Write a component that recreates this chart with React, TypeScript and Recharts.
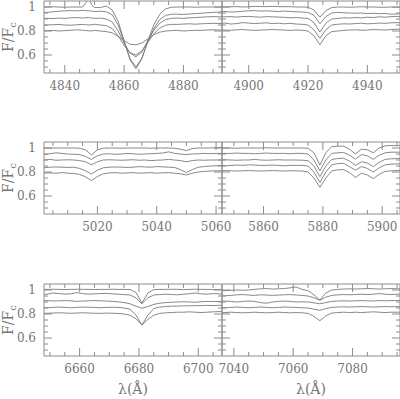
import React from 'react';
import { LineChart, Line, XAxis, YAxis, Label } from 'recharts';

// Normalised flux F/Fc of five spectra (offset).
// Each window has its own wavelength grid (Å).

const WAVE_HB = [4832, 4834, 4836, 4838, 4840, 4842, 4844, 4846, 4847, 4848, 4849, 4850, 4852, 4854, 4856, 4858, 4860, 4862, 4864, 4866, 4868, 4870, 4872, 4874, 4876, 4878, 4880, 4882, 4884, 4886, 4888, 4890, 4892, 4894];
const HB_1 = [1.0, 1.0, 1.002, 1.0, 0.998, 1.0, 1.0, 1.0, 1.03, 1.09, 1.02, 0.996, 0.995, 1.008, 0.975, 0.88, 0.72, 0.56, 0.485, 0.57, 0.72, 0.85, 0.94, 0.985, 0.998, 1.0, 1.0, 1.0, 0.998, 1.0, 1.0, 1.0, 1.0, 1.0];
const HB_2 = [0.953, 0.955, 0.96, 0.965, 0.968, 0.97, 0.968, 0.972, 0.97, 0.968, 0.966, 0.962, 0.965, 0.96, 0.935, 0.85, 0.71, 0.57, 0.5, 0.575, 0.71, 0.82, 0.895, 0.93, 0.94, 0.94, 0.938, 0.942, 0.945, 0.948, 0.952, 0.955, 0.958, 0.96];
const HB_3 = [0.905, 0.906, 0.903, 0.908, 0.905, 0.91, 0.912, 0.908, 0.91, 0.912, 0.908, 0.905, 0.907, 0.9, 0.875, 0.8, 0.7, 0.615, 0.585, 0.625, 0.72, 0.805, 0.865, 0.895, 0.905, 0.908, 0.905, 0.91, 0.912, 0.915, 0.918, 0.92, 0.918, 0.92];
const HB_4 = [0.848, 0.85, 0.852, 0.855, 0.85, 0.848, 0.852, 0.855, 0.853, 0.85, 0.852, 0.856, 0.85, 0.845, 0.82, 0.76, 0.68, 0.62, 0.6, 0.635, 0.705, 0.775, 0.825, 0.848, 0.855, 0.855, 0.858, 0.86, 0.857, 0.86, 0.862, 0.864, 0.862, 0.865];
const HB_5 = [0.8, 0.802, 0.805, 0.8, 0.803, 0.806, 0.81, 0.806, 0.804, 0.802, 0.8, 0.805, 0.8, 0.795, 0.785, 0.755, 0.72, 0.69, 0.685, 0.7, 0.735, 0.77, 0.79, 0.8, 0.803, 0.805, 0.8, 0.803, 0.806, 0.805, 0.808, 0.81, 0.808, 0.81];

const WAVE_4922 = [4890, 4892, 4894, 4896, 4898, 4900, 4902, 4904, 4906, 4908, 4910, 4912, 4914, 4916, 4918, 4920, 4922, 4924, 4926, 4928, 4930, 4932, 4934, 4936, 4938, 4940, 4942, 4944, 4946, 4948, 4950, 4952];
const L4922_1 = [1.0, 1.0, 1.002, 1.003, 1.0, 1.002, 1.005, 1.004, 1.003, 1.005, 1.004, 1.002, 1.003, 1.0, 1.0, 0.998, 0.975, 0.915, 0.97, 0.995, 1.0, 1.0, 0.998, 1.0, 1.002, 1.0, 1.0, 0.998, 0.998, 1.0, 0.998, 1.0];
const L4922_2 = [0.96, 0.962, 0.958, 0.96, 0.965, 0.968, 0.97, 0.966, 0.968, 0.965, 0.962, 0.966, 0.963, 0.96, 0.958, 0.955, 0.93, 0.86, 0.92, 0.95, 0.955, 0.952, 0.95, 0.948, 0.95, 0.945, 0.948, 0.944, 0.946, 0.94, 0.942, 0.945];
const L4922_3 = [0.92, 0.918, 0.92, 0.916, 0.92, 0.922, 0.918, 0.915, 0.92, 0.918, 0.916, 0.914, 0.91, 0.912, 0.908, 0.905, 0.87, 0.79, 0.865, 0.9, 0.905, 0.91, 0.908, 0.912, 0.91, 0.915, 0.912, 0.918, 0.915, 0.92, 0.922, 0.918];
const L4922_4 = [0.864, 0.866, 0.858, 0.862, 0.87, 0.866, 0.862, 0.865, 0.868, 0.862, 0.865, 0.86, 0.864, 0.858, 0.856, 0.85, 0.81, 0.74, 0.81, 0.85, 0.856, 0.86, 0.858, 0.862, 0.865, 0.86, 0.862, 0.866, 0.864, 0.868, 0.87, 0.866];
const L4922_5 = [0.81, 0.808, 0.806, 0.81, 0.812, 0.808, 0.805, 0.808, 0.81, 0.812, 0.81, 0.808, 0.805, 0.808, 0.806, 0.8, 0.76, 0.685, 0.76, 0.795, 0.8, 0.805, 0.808, 0.81, 0.806, 0.808, 0.812, 0.81, 0.808, 0.812, 0.815, 0.812];

const WAVE_5016 = [5002, 5004, 5006, 5008, 5010, 5012, 5014, 5016, 5018, 5020, 5022, 5024, 5026, 5028, 5030, 5032, 5034, 5036, 5038, 5040, 5042, 5044, 5046, 5048, 5050, 5052, 5054, 5056, 5058, 5060, 5062];
const L5016_1 = [1.0, 1.0, 1.0, 1.0, 1.0, 1.0, 0.998, 0.985, 0.942, 0.985, 0.998, 1.0, 1.0, 0.998, 1.0, 1.0, 1.0, 1.0, 0.998, 1.0, 1.0, 1.0, 0.998, 0.99, 0.978, 0.995, 1.0, 1.0, 1.0, 1.003, 1.005];
const L5016_2 = [0.945, 0.952, 0.96, 0.955, 0.95, 0.948, 0.945, 0.93, 0.905, 0.935, 0.95, 0.952, 0.948, 0.95, 0.955, 0.952, 0.948, 0.95, 0.952, 0.955, 0.958, 0.968, 0.955, 0.95, 0.945, 0.95, 0.952, 0.955, 0.953, 0.955, 0.955];
const L5016_3 = [0.9, 0.905, 0.898, 0.9, 0.902, 0.9, 0.895, 0.885, 0.86, 0.885, 0.9, 0.902, 0.9, 0.898, 0.9, 0.902, 0.898, 0.9, 0.895, 0.898, 0.9, 0.905, 0.9, 0.895, 0.885, 0.895, 0.9, 0.898, 0.9, 0.9, 0.9];
const L5016_4 = [0.835, 0.84, 0.842, 0.84, 0.838, 0.84, 0.83, 0.81, 0.783, 0.815, 0.835, 0.84, 0.842, 0.84, 0.838, 0.84, 0.845, 0.842, 0.84, 0.845, 0.843, 0.84, 0.838, 0.82, 0.795, 0.82, 0.84, 0.845, 0.85, 0.852, 0.855];
const L5016_5 = [0.79, 0.792, 0.79, 0.795, 0.79, 0.788, 0.78, 0.76, 0.728, 0.762, 0.785, 0.792, 0.795, 0.79, 0.792, 0.795, 0.79, 0.792, 0.795, 0.79, 0.793, 0.795, 0.79, 0.785, 0.775, 0.79, 0.8, 0.805, 0.808, 0.81, 0.81];

const WAVE_5876 = [5845, 5847, 5849, 5851, 5853, 5855, 5857, 5859, 5861, 5863, 5865, 5867, 5869, 5871, 5873, 5875, 5877, 5879, 5881, 5883, 5885, 5887, 5889, 5891, 5893, 5895, 5897, 5899, 5901, 5903, 5905, 5907];
const L5876_1 = [1.0, 1.0, 1.0, 0.998, 1.0, 1.0, 1.0, 1.0, 1.002, 1.0, 1.0, 1.0, 1.0, 1.0, 1.0, 0.998, 0.96, 0.858, 0.96, 1.012, 1.015, 1.015, 0.99, 0.95, 0.99, 0.985, 0.96, 1.0, 1.018, 1.02, 1.02, 1.02];
const L5876_2 = [0.952, 0.955, 0.955, 0.958, 0.955, 0.955, 0.952, 0.955, 0.958, 0.955, 0.955, 0.955, 0.952, 0.955, 0.955, 0.95, 0.9, 0.81, 0.9, 0.955, 0.96, 0.962, 0.94, 0.908, 0.945, 0.935, 0.905, 0.94, 0.96, 0.965, 0.965, 0.965];
const L5876_3 = [0.9, 0.902, 0.9, 0.898, 0.9, 0.9, 0.905, 0.9, 0.898, 0.9, 0.902, 0.9, 0.9, 0.9, 0.898, 0.895, 0.85, 0.76, 0.85, 0.905, 0.912, 0.915, 0.89, 0.855, 0.885, 0.875, 0.845, 0.88, 0.905, 0.91, 0.912, 0.912];
const L5876_4 = [0.855, 0.852, 0.855, 0.858, 0.855, 0.86, 0.858, 0.855, 0.855, 0.858, 0.855, 0.852, 0.855, 0.855, 0.855, 0.85, 0.8, 0.713, 0.8, 0.86, 0.87, 0.872, 0.845, 0.815, 0.845, 0.83, 0.8, 0.835, 0.86, 0.865, 0.868, 0.868];
const L5876_5 = [0.81, 0.812, 0.81, 0.808, 0.81, 0.812, 0.81, 0.808, 0.81, 0.812, 0.81, 0.808, 0.81, 0.81, 0.808, 0.8, 0.75, 0.672, 0.75, 0.81, 0.818, 0.82, 0.795, 0.755, 0.79, 0.775, 0.745, 0.78, 0.805, 0.81, 0.812, 0.815];

const WAVE_6678 = [6647, 6649, 6651, 6653, 6655, 6657, 6659, 6661, 6663, 6665, 6667, 6669, 6671, 6673, 6675, 6677, 6679, 6681, 6683, 6685, 6687, 6689, 6691, 6693, 6695, 6697, 6699, 6701, 6703, 6705, 6707, 6709];
const L6678_1 = [1.005, 1.005, 1.006, 1.005, 1.004, 1.005, 1.006, 1.005, 1.005, 1.004, 1.005, 1.005, 1.006, 1.005, 1.005, 1.004, 0.98, 0.89, 0.975, 1.003, 1.005, 1.005, 1.006, 1.005, 1.004, 1.005, 1.006, 1.005, 1.005, 1.004, 1.005, 1.005];
const L6678_2 = [0.962, 0.965, 0.975, 0.97, 0.966, 0.968, 0.978, 0.97, 0.965, 0.968, 0.97, 0.972, 0.968, 0.965, 0.962, 0.958, 0.935, 0.885, 0.935, 0.958, 0.962, 0.965, 0.962, 0.96, 0.965, 0.968, 0.975, 0.968, 0.965, 0.97, 0.968, 0.962];
const L6678_3 = [0.91, 0.912, 0.908, 0.91, 0.912, 0.91, 0.905, 0.908, 0.91, 0.912, 0.91, 0.908, 0.905, 0.902, 0.895, 0.885, 0.865, 0.848, 0.862, 0.88, 0.89, 0.895, 0.898, 0.9, 0.902, 0.9, 0.898, 0.902, 0.905, 0.904, 0.905, 0.905];
const L6678_4 = [0.855, 0.852, 0.855, 0.858, 0.855, 0.852, 0.855, 0.858, 0.856, 0.855, 0.852, 0.855, 0.856, 0.855, 0.85, 0.84, 0.79, 0.708, 0.79, 0.845, 0.858, 0.862, 0.865, 0.866, 0.868, 0.868, 0.87, 0.87, 0.872, 0.87, 0.872, 0.872];
const L6678_5 = [0.808, 0.806, 0.808, 0.81, 0.808, 0.806, 0.808, 0.81, 0.808, 0.806, 0.805, 0.808, 0.806, 0.805, 0.8, 0.79, 0.76, 0.708, 0.755, 0.79, 0.805, 0.81, 0.812, 0.815, 0.815, 0.818, 0.815, 0.812, 0.815, 0.818, 0.82, 0.82];

const WAVE_7065 = [7035, 7037, 7039, 7041, 7043, 7045, 7047, 7049, 7051, 7053, 7055, 7057, 7059, 7061, 7063, 7065, 7067, 7069, 7071, 7073, 7075, 7077, 7079, 7081, 7083, 7085, 7087, 7089, 7091, 7093, 7095, 7097];
const L7065_1 = [0.994, 0.995, 0.998, 1.0, 0.998, 1.0, 1.005, 1.01, 1.012, 1.008, 1.01, 1.012, 1.018, 1.025, 1.005, 0.995, 0.96, 0.917, 0.975, 1.0, 1.005, 1.008, 1.01, 1.008, 1.01, 1.012, 1.01, 1.008, 1.01, 1.012, 1.01, 1.01];
const L7065_2 = [0.95, 0.952, 0.955, 0.96, 0.962, 0.958, 0.955, 0.96, 0.958, 0.955, 0.958, 0.96, 0.962, 0.958, 0.955, 0.95, 0.935, 0.915, 0.94, 0.955, 0.96, 0.962, 0.96, 0.962, 0.965, 0.962, 0.965, 0.97, 0.965, 0.962, 0.965, 0.965];
const L7065_3 = [0.905, 0.908, 0.905, 0.9, 0.905, 0.908, 0.905, 0.895, 0.89, 0.9, 0.905, 0.908, 0.905, 0.9, 0.902, 0.9, 0.893, 0.885, 0.895, 0.905, 0.908, 0.91, 0.908, 0.91, 0.912, 0.91, 0.908, 0.912, 0.91, 0.912, 0.912, 0.912];
const L7065_4 = [0.85, 0.852, 0.855, 0.858, 0.855, 0.852, 0.855, 0.858, 0.855, 0.852, 0.855, 0.858, 0.856, 0.855, 0.852, 0.85, 0.84, 0.83, 0.845, 0.855, 0.858, 0.86, 0.858, 0.86, 0.862, 0.86, 0.858, 0.86, 0.862, 0.86, 0.862, 0.86];
const L7065_5 = [0.81, 0.812, 0.815, 0.812, 0.81, 0.812, 0.815, 0.812, 0.81, 0.812, 0.815, 0.812, 0.81, 0.812, 0.81, 0.805, 0.78, 0.744, 0.785, 0.808, 0.812, 0.815, 0.812, 0.815, 0.812, 0.815, 0.818, 0.815, 0.812, 0.815, 0.815, 0.815];

// x-axis label values per window
const LABELS_HB = [4840, 4860, 4880];
const LABELS_4922 = [4900, 4920, 4940];
const LABELS_5016 = [5020, 5040, 5060];
const LABELS_5876 = [5860, 5880, 5900];
const LABELS_6678 = [6660, 6680, 6700];
const LABELS_7065 = [7040, 7060, 7080];

const Y_DOMAIN = [0.45, 1.05];
const Y_TICKS = [0.5, 0.55, 0.6, 0.65, 0.7, 0.75, 0.8, 0.85, 0.9, 0.95, 1];
const Y_LABELS = [0.6, 0.8, 1];

const PANELS = [
  { wave: WAVE_HB, flux: [HB_1, HB_2, HB_3, HB_4, HB_5], domain: [4833, 4893], labels: LABELS_HB },
  { wave: WAVE_4922, flux: [L4922_1, L4922_2, L4922_3, L4922_4, L4922_5], domain: [4891, 4951], labels: LABELS_4922 },
  { wave: WAVE_5016, flux: [L5016_1, L5016_2, L5016_3, L5016_4, L5016_5], domain: [5002, 5062], labels: LABELS_5016 },
  { wave: WAVE_5876, flux: [L5876_1, L5876_2, L5876_3, L5876_4, L5876_5], domain: [5846, 5906], labels: LABELS_5876 },
  { wave: WAVE_6678, flux: [L6678_1, L6678_2, L6678_3, L6678_4, L6678_5], domain: [6648, 6708], labels: LABELS_6678 },
  { wave: WAVE_7065, flux: [L7065_1, L7065_2, L7065_3, L7065_4, L7065_5], domain: [7036, 7096], labels: LABELS_7065 },
];

const KEYS = ['s1', 's2', 's3', 's4', 's5'];

const COL_X = [44, 222];
const ROW_Y = [1, 141.5, 283.5];
const AXIS_W = 44;
const PAD = 10;

const INK = '#8c8c8c';
const LINE = '#7a7a7a';
const TEXT = '#767676';
const FONT = '"DejaVu Serif", serif';
const MAJOR = 8;
const MINOR = 4;

function minorTicks(lo: number, hi: number) {
  const out: number[] = [];
  for (let v = Math.ceil((lo + 0.01) / 5) * 5; v < hi; v += 5) out.push(v);
  return out;
}

const isMajorY = (v: number) => Math.abs(v * 5 - Math.round(v * 5)) < 1e-6;

function XTick({ x, y, payload, dir, labels }: any) {
  const v = payload.value;
  const major = v % 20 === 0;
  return (
    <g>
      <line x1={x} x2={x} y1={y} y2={y + dir * (major ? MAJOR : MINOR)} stroke={INK} />
      {labels && labels.includes(v) && (
        <text x={x} y={y + 17} textAnchor="middle" fill={TEXT} fontSize={12} style={{ fontFamily: FONT }}>
          {v}
        </text>
      )}
    </g>
  );
}

function YTick({ x, y, payload, dir, showLabel }: any) {
  const v = payload.value;
  const major = isMajorY(v);
  return (
    <g>
      <line x1={x} x2={x + dir * (major ? MAJOR : MINOR)} y1={y} y2={y} stroke={INK} />
      {showLabel && Y_LABELS.some((l) => Math.abs(l - v) < 1e-6) && (
        <text x={x - 8} y={y} dy="0.36em" textAnchor="end" fill={TEXT} fontSize={12} style={{ fontFamily: FONT }}>
          {v === 1 ? '1' : v.toFixed(1)}
        </text>
      )}
    </g>
  );
}

function FluxTitle({ viewBox }: any) {
  const cx = (viewBox?.x ?? 0) + 12.5;
  const cy = (viewBox?.y ?? PAD) + (viewBox?.height ?? 72) / 2;
  return (
    <text x={cx} y={cy} transform={`rotate(-90, ${cx}, ${cy})`} textAnchor="middle" fill={TEXT} fontSize={14} style={{ fontFamily: FONT }}>
      F/F<tspan dy={3} fontSize={10}>c</tspan>
    </text>
  );
}

function WaveTitle({ viewBox }: any) {
  const x = (viewBox?.x ?? AXIS_W) + (viewBox?.width ?? 178) / 2;
  const y = (viewBox?.y ?? 82) + 37.5;
  return (
    <text x={x} y={y} textAnchor="middle" fill={TEXT} fontSize={14} style={{ fontFamily: FONT }}>
      λ(Å)
    </text>
  );
}

function Panel({ p, col, row }: any) {
  const data = p.wave.map((w: number, i: number) => {
    const d: any = { w };
    KEYS.forEach((k, j) => (d[k] = p.flux[j][i]));
    return d;
  });
  const ticks = minorTicks(p.domain[0], p.domain[1]);
  const leftCol = col === 0;
  const bottomRow = row === 2;
  return (
    <div style={{ position: 'absolute', left: COL_X[col] - AXIS_W, top: ROW_Y[row] - PAD }}>
      <LineChart width={232} height={127} data={data} margin={{ top: 5, right: 5, bottom: 0, left: 0 }}>
        <XAxis
          xAxisId="b"
          dataKey="w"
          type="number"
          domain={p.domain}
          allowDataOverflow
          ticks={ticks}
          interval={0}
          tickSize={0}
          tickMargin={0}
          tickLine={false}
          axisLine={{ stroke: INK }}
          height={45}
          tick={(t: any) => <XTick {...t} dir={-1} labels={p.labels} />}
        >
          {bottomRow && <Label content={(lp: any) => <WaveTitle {...lp} />} />}
        </XAxis>
        <XAxis
          xAxisId="t"
          orientation="top"
          dataKey="w"
          type="number"
          domain={p.domain}
          allowDataOverflow
          ticks={ticks}
          interval={0}
          tickSize={0}
          tickMargin={0}
          tickLine={false}
          axisLine={{ stroke: INK }}
          height={5}
          tick={(t: any) => <XTick {...t} dir={1} />}
        />
        <YAxis
          yAxisId="l"
          type="number"
          domain={Y_DOMAIN}
          allowDataOverflow
          ticks={Y_TICKS}
          interval={0}
          tickSize={0}
          tickMargin={0}
          tickLine={false}
          axisLine={{ stroke: INK }}
          width={AXIS_W}
          tick={(t: any) => <YTick {...t} dir={1} showLabel={leftCol} />}
        >
          {leftCol && <Label content={(lp: any) => <FluxTitle {...lp} />} />}
        </YAxis>
        <YAxis
          yAxisId="r"
          orientation="right"
          type="number"
          domain={Y_DOMAIN}
          allowDataOverflow
          ticks={Y_TICKS}
          interval={0}
          tickSize={0}
          tickMargin={0}
          tickLine={false}
          axisLine={{ stroke: INK }}
          width={5}
          tick={(t: any) => <YTick {...t} dir={-1} />}
        />
        {KEYS.map((k) => (
          <Line
            key={k}
            xAxisId="b"
            yAxisId="l"
            dataKey={k}
            type="linear"
            stroke={LINE}
            strokeWidth={0.9}
            dot={false}
            activeDot={false}
            isAnimationActive={false}
          />
        ))}
      </LineChart>
    </div>
  );
}

export default function App() {
  return (
    <div style={{ position: 'absolute', left: 0, top: 0, width: 400, height: 399, overflow: 'hidden', background: '#fff' }}>
      {PANELS.map((p, i) => (
        <Panel key={i} p={p} col={i % 2} row={Math.floor(i / 2)} />
      ))}
    </div>
  );
}
